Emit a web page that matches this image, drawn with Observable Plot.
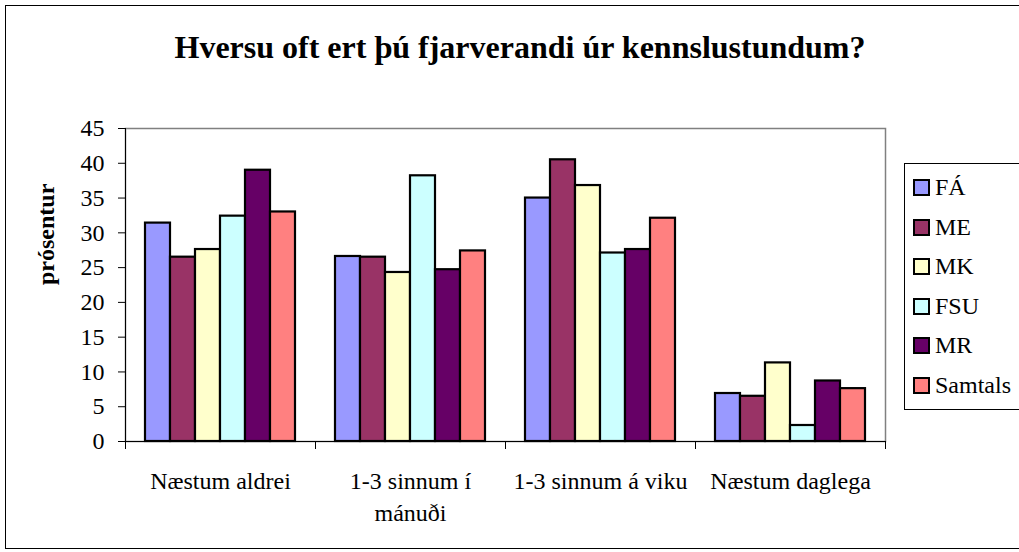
<!DOCTYPE html>
<html><head><meta charset="utf-8">
<script src="https://cdn.jsdelivr.net/npm/d3@7"></script>
<script src="https://cdn.jsdelivr.net/npm/@observablehq/plot@0.6"></script>
<style>
body{margin:0;background:#fff;font-family:'Liberation Serif',serif;}
#chart{position:relative;width:1019px;height:552px;overflow:hidden;color:#000;}
#chart svg{position:absolute;left:0;top:0;background:transparent;}
#border{position:absolute;left:5px;top:5px;width:1040px;height:544px;border:1px solid #000;box-sizing:border-box;}
#title{position:absolute;top:31px;left:0;width:1040px;text-align:center;font-weight:bold;font-size:32px;line-height:32px;white-space:nowrap;}
#legend{position:absolute;left:904px;top:163px;width:140px;box-sizing:border-box;border:1px solid #000;padding:4px 0 4px 8px;background:#fff;}
.item{height:39.5px;display:flex;align-items:center;font-size:24px;}
.sw{width:13px;height:13px;border:2px solid #000;margin-right:5px;}
</style></head>
<body>
<div id="chart">
  <div id="title" style="font-family:'Liberation Serif'">Hversu oft ert þú fjarverandi úr kennslustundum?</div>
</div>
<script>
const categories = ["Næstum aldrei", "1-3 sinnum í mánuði", "1-3 sinnum á viku", "Næstum daglega"];
const categoryLabels = ["Næstum aldrei", "1-3 sinnum í\nmánuði", "1-3 sinnum á viku", "Næstum daglega"];
const series = ["FÁ", "ME", "MK", "FSU", "MR", "Samtals"];
const FA      = [31.4, 26.6, 35.0, 6.9];
const ME      = [26.5, 26.5, 40.5, 6.5];
const MK      = [27.6, 24.3, 36.8, 11.3];
const FSU     = [32.4, 38.2, 27.1, 2.3];
const MR      = [39.0, 24.7, 27.6, 8.7];
const Samtals = [33.0, 27.4, 32.1, 7.6];
const yTicks = [0, 5, 10, 15, 20, 25, 30, 35, 40, 45];
const palette = ["#9999FF", "#993366", "#FFFFCC", "#CCFFFF", "#660066", "#FF8080"];

const valuesBySeries = [FA, ME, MK, FSU, MR, Samtals];
const rows = [];
categories.forEach((c, ci) => series.forEach((s, si) => rows.push({cat: c, series: s, value: valuesBySeries[si][ci]})));

const W = 1019, H = 552, mL = 124, mR = 134, mT = 128, mB = 111;
const plotH = H - mT - mB;

const chart = Plot.plot({
  width: W, height: H,
  marginLeft: mL, marginRight: mR, marginTop: mT, marginBottom: mB,
  style: {fontSize: "24px", color: "#000", background: "transparent"},
  fx: {domain: categories, padding: 0, label: null},
  x: {domain: series, paddingInner: 0, paddingOuter: 0.75, axis: null},
  y: {domain: [0, 45], label: null},
  color: {domain: series, range: palette},
  marks: [
    Plot.frame({facet: "super", stroke: "#808080", strokeWidth: 1.5}),
    Plot.barY(rows, {fx: "cat", x: "series", y: "value", fill: "series", stroke: "#000", strokeWidth: 2.2}),
    Plot.frame({facet: "super", anchor: "left", stroke: "#000"}),
    Plot.frame({facet: "super", anchor: "bottom", stroke: "#000"}),
    Plot.frame({anchor: "left", insetTop: plotH, insetBottom: -7, stroke: "#000"}),
    Plot.frame({anchor: "right", insetTop: plotH, insetBottom: -7, stroke: "#000"}),
    Plot.axisY({ticks: yTicks, tickSize: 7, tickPadding: 14, fontSize: 24, label: null}),
    Plot.axisFx({anchor: "bottom", tickSize: 0, tickPadding: 25, fontSize: 24, lineHeight: 1.33,
      tickFormat: d => categoryLabels[categories.indexOf(d)], label: null}),
    Plot.text(["prósentur"], {facet: "super", frameAnchor: "left", rotate: -90, dx: -79, fontWeight: "bold", fontSize: 24})
  ]
});
chart.style.fontFamily = "'Liberation Serif'";
chart.querySelectorAll("g, text").forEach(el => { if (el.hasAttribute("font-family")) el.removeAttribute("font-family"); });
const root = document.getElementById("chart");
root.insertBefore(chart, root.firstChild);

const border = document.createElement("div");
border.id = "border";
root.appendChild(border);

const legend = document.createElement("div");
legend.id = "legend";
legend.style.fontFamily = "'Liberation Serif'";
series.forEach((s, i) => {
  const it = document.createElement("div");
  it.className = "item";
  const sw = document.createElement("span");
  sw.className = "sw";
  sw.style.background = palette[i];
  it.appendChild(sw);
  it.appendChild(document.createTextNode(s));
  legend.appendChild(it);
});
root.appendChild(legend);
</script>
</body></html>
